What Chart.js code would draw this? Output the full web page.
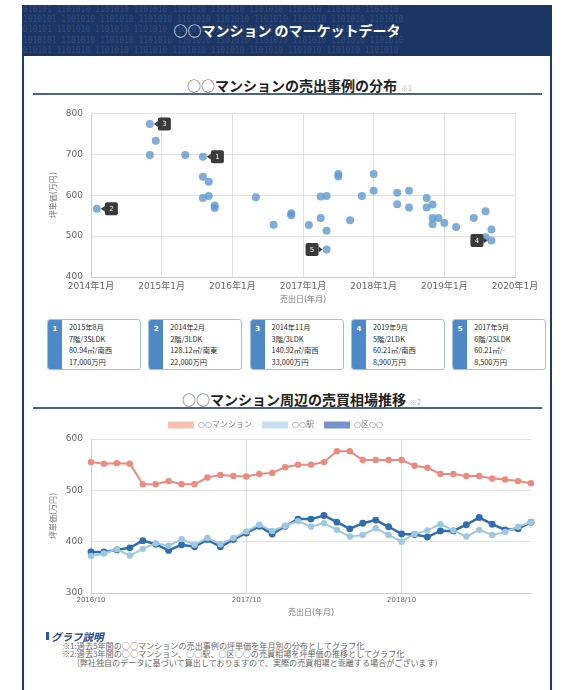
<!DOCTYPE html>
<html lang="ja">
<head>
<meta charset="utf-8">
<script src="https://cdn.jsdelivr.net/npm/chart.js@4.4.1/dist/chart.umd.min.js"></script>
<style>
  body { margin:0; width:564px; height:690px; background:#fff; position:relative; overflow:hidden;
         font-family:"Noto Sans CJK JP", sans-serif; }
  #frame { position:absolute; left:22px; top:5px; width:526px; height:700px;
           border-left:2px solid #1f3a6b; border-right:2px solid #1f3a6b; }
  #header { position:absolute; left:22px; top:5px; width:530px; height:51px; background:#1b3564; overflow:hidden; }
  #binary { position:absolute; left:-4px; top:0; font:8px/10.2px "DejaVu Sans Mono", monospace;
            color:rgba(140,170,220,0.22); white-space:pre; }
  #header .ttl { position:absolute; left:0; right:0; top:0; line-height:51px; text-align:center;
                 color:#fff; font-weight:bold; font-size:14px; }
  .thin { font-weight:normal; }
  .sec { position:absolute; font-size:14px; font-weight:bold; color:#222; line-height:18px; white-space:nowrap; }
  .sec .thin { color:#555; }
  .sec small { font-size:7px; font-weight:normal; color:#aaa; margin-left:4px; }
  .rule { position:absolute; left:33px; width:509px; height:2px; background:#4a6491; }
  .card { position:absolute; top:319px; width:94px; height:51px; box-sizing:border-box;
          border:1px solid #a3bfdf; border-radius:3px; overflow:hidden; background:#fff; }
  .card .strip { position:absolute; left:0; top:0; bottom:0; width:14px; background:#4d89c6;
                 color:#fff; font:bold 7px "DejaVu Sans", sans-serif; text-align:center; padding-top:5px; box-sizing:border-box; }
  .card .txt { position:absolute; left:21px; top:2px; font-size:7.3px; line-height:11.7px; color:#2a2a2a; white-space:nowrap; }
  canvas { position:absolute; }
  #noteHead { position:absolute; left:51px; top:629px; font-size:10.5px; font-weight:bold; color:#23448a; font-style:italic; }
  #noteBar { position:absolute; left:46px; top:632px; width:3px; height:8px; background:#2255aa; }
  #notes { position:absolute; left:62px; top:642px; font-size:8.1px; line-height:8.4px; color:#666; white-space:nowrap; }
</style>
</head>
<body>
<div id="frame"></div>
<div id="header"><div id="binary"></div><div class="ttl"><span class="thin">○○</span>マンション のマーケットデータ</div></div>

<div class="sec" style="left:187px; top:76px;"><span class="thin">○○</span>マンションの売出事例の分布<small>※1</small></div>
<div class="rule" style="top:93px;"></div>
<canvas id="scatterChart" width="530" height="210" style="left:20px; top:100px;"></canvas>
<div id="cards"></div>

<div class="sec" style="left:182px; top:390px;"><span class="thin">○○</span>マンション周辺の売買相場推移<small>※2</small></div>
<div class="rule" style="top:407px;"></div>
<canvas id="lineChart" width="530" height="215" style="left:20px; top:410px;"></canvas>

<div id="noteBar"></div>
<div id="noteHead">グラフ説明</div>
<div id="notes">※1:過去5年間の○○マンションの売出事例の坪単価を年月別の分布としてグラフ化<br>※2:過去3年間の○○マンション、○○駅、○区○○の売買相場を坪単価の推移としてグラフ化<br><span style="padding-left:15px">(弊社独自のデータに基づいて算出しておりますので、実際の売買相場と乖離する場合がございます)</span></div>

<script>
// Scatter data: sale month and unit price (万円/坪)
const saleMonths = ['2014-02','2014-11','2014-12','2014-11','2015-05','2015-08','2015-08','2015-09','2015-08','2015-09',
  '2015-10','2015-10','2016-05','2016-08','2016-11','2016-11','2017-02','2017-04','2017-05','2017-04',
  '2017-05','2017-05','2017-07','2017-07','2017-09','2017-11','2018-01','2018-01','2018-05','2018-05',
  '2018-07','2018-07','2018-10','2018-10','2018-11','2018-11','2018-12','2018-11','2019-01','2019-03',
  '2019-06','2019-08','2019-09','2019-09','2019-08'];
const unitPrices = [567,774,733,698,698,694,645,633,593,598,
  575,569,595,528,556,551,527,597,598,544,
  513,467,652,646,539,598,652,611,606,578,
  611,570,593,570,577,544,544,529,532,522,
  544,561,516,489,497];
// which point each case card (1..5) points to
const calloutPoints = [5, 0, 1, 43, 21];

// case cards
const caseMonths = ['2015年8月','2014年2月','2014年11月','2019年9月','2017年5月'];
const casePlans = ['7階/3SLDK','2階/3LDK','3階/3LDK','5階/2LDK','6階/2SLDK'];
const caseAreas = ['80.94㎡/南西','128.12㎡/南東','140.92㎡/南西','60.21㎡/南西','60.21㎡/-'];
const casePrices = ['17,000万円','22,000万円','33,000万円','8,900万円','8,500万円'];

// Line chart data
const trendLabels = ['2016/10','2016/11','2016/12','2017/01','2017/02','2017/03','2017/04','2017/05','2017/06','2017/07',
  '2017/08','2017/09','2017/10','2017/11','2017/12','2018/01','2018/02','2018/03','2018/04','2018/05',
  '2018/06','2018/07','2018/08','2018/09','2018/10','2018/11','2018/12','2019/01','2019/02','2019/03',
  '2019/04','2019/05','2019/06','2019/07','2019/08'];
const mansionPrices = [555,552,553,552,512,512,518,512,512,525,530,528,527,532,534,545,550,550,555,576,
  576,559,559,559,559,548,544,532,532,528,528,523,521,518,514];
const stationPrices = [372,377,385,373,386,397,392,405,394,407,395,407,420,433,421,431,440,429,436,423,
  410,413,426,413,400,415,422,434,422,410,423,413,419,429,438];
const wardPrices = [380,380,384,388,402,395,383,394,390,404,390,404,417,430,415,430,444,444,451,438,
  425,436,442,429,415,414,409,421,421,433,447,434,423,425,438];

// header pattern
const bits = '1010101 1101010 1101010 1101010 1101010 1101010 1101010 1101010 1101010 1101010';
document.getElementById('binary').textContent = [bits, '1' + bits, bits, '0' + bits, bits].join('\n');

// cards
const cardBox = document.getElementById('cards');
caseMonths.forEach((m, i) => {
  const d = document.createElement('div');
  d.className = 'card';
  d.style.left = (47 + i * 101.3) + 'px';
  d.innerHTML = '<div class="strip">' + (i + 1) + '</div><div class="txt">' +
    [m, casePlans[i], caseAreas[i], casePrices[i]].join('<br>') + '</div>';
  cardBox.appendChild(d);
});

Chart.defaults.font.family = '"DejaVu Sans", "Noto Sans CJK JP", sans-serif';
Chart.defaults.color = '#666';

const toMonth = s => (parseInt(s.slice(0, 4)) - 2014) * 12 + parseInt(s.slice(5)) - 1;

const calloutPlugin = {
  id: 'callouts',
  afterDatasetsDraw(chart) {
    const meta = chart.getDatasetMeta(0);
    const ctx = chart.ctx;
    ctx.save();
    calloutPoints.forEach((idx, i) => {
      const pt = meta.data[idx];
      const toLeft = i >= 3;
      const size = 13, gap = 8;
      const bx = toLeft ? pt.x - gap - size : pt.x + gap;
      const by = pt.y - size / 2;
      ctx.fillStyle = '#3a3a3a';
      ctx.beginPath();
      ctx.roundRect(bx, by, size, size, 2);
      ctx.fill();
      ctx.beginPath();
      if (toLeft) {
        ctx.moveTo(bx + size, pt.y - 3); ctx.lineTo(bx + size + 4, pt.y); ctx.lineTo(bx + size, pt.y + 3);
      } else {
        ctx.moveTo(bx, pt.y - 3); ctx.lineTo(bx - 4, pt.y); ctx.lineTo(bx, pt.y + 3);
      }
      ctx.fill();
      ctx.fillStyle = '#fff';
      ctx.font = '7px "DejaVu Sans"';
      ctx.textAlign = 'center';
      ctx.textBaseline = 'middle';
      ctx.fillText(String(i + 1), bx + size / 2, pt.y + 0.5);
    });
    ctx.restore();
  }
};

new Chart(document.getElementById('scatterChart'), {
  type: 'scatter',
  data: {
    datasets: [{
      data: saleMonths.map((m, i) => ({x: toMonth(m), y: unitPrices[i]})),
      backgroundColor: 'rgba(94,152,208,0.8)',
      borderWidth: 0,
      pointRadius: 4,
      pointHoverRadius: 4
    }]
  },
  options: {
    responsive: false,
    animation: false,
    layout: {padding: {left: 0, right: 35, top: 11, bottom: 0}},
    plugins: {legend: {display: false}, tooltip: {enabled: false}},
    scales: {
      x: {
        type: 'linear', min: 0, max: 72,
        afterFit: s => { s.height = 33; },
        grid: {color: '#e2e2e2', drawTicks: false},
        border: {color: '#cfcfcf'},
        ticks: {stepSize: 12, padding: 4, font: {size: 9}, callback: v => (2014 + v / 12) + '年1月'},
        title: {display: true, text: '売出日(年月)', font: {size: 8}, color: '#777', padding: {top: 0, bottom: 5}}
      },
      y: {
        min: 400, max: 800,
        afterFit: s => { s.width = 71; },
        grid: {color: '#e2e2e2', drawTicks: false},
        border: {color: '#cfcfcf'},
        ticks: {stepSize: 100, padding: 8, font: {size: 9}},
        title: {display: true, text: '坪単価(万円)', font: {size: 8}, color: '#777', padding: {top: 29, bottom: 0}}
      }
    }
  },
  plugins: [calloutPlugin]
});

const legendFill = ['#f6c0b5', '#c5def0', '#7694cc'];

new Chart(document.getElementById('lineChart'), {
  type: 'line',
  data: {
    labels: trendLabels,
    datasets: [
      {label: '○○マンション', data: mansionPrices, borderColor: '#ec8a7e', backgroundColor: '#ec8a7e',
       borderWidth: 2, pointRadius: 2.2},
      {label: '○○駅', data: stationPrices, borderColor: '#9ec8e2', backgroundColor: '#9ec8e2',
       borderWidth: 2, pointRadius: 2.2},
      {label: '○区○○', data: wardPrices, borderColor: '#2f6db1', backgroundColor: '#2f6db1',
       borderWidth: 2.5, pointRadius: 2.2}
    ]
  },
  options: {
    responsive: false,
    animation: false,
    layout: {padding: {left: 0, right: 19, top: 1, bottom: 0}},
    plugins: {
      tooltip: {enabled: false},
      legend: {
        labels: {
          boxWidth: 26, boxHeight: 7, padding: 10, font: {size: 8}, color: '#777',
          generateLabels: chart => Chart.defaults.plugins.legend.labels.generateLabels(chart)
            .map(l => Object.assign(l, {fillStyle: legendFill[l.datasetIndex], lineWidth: 0, strokeStyle: 'transparent'}))
        }
      }
    },
    scales: {
      x: {
        afterFit: s => { s.height = 32; },
        grid: {drawTicks: false, color: c => (trendLabels[c.index] || '').endsWith('/10') ? '#dcdcdc' : 'transparent'},
        border: {color: '#cfcfcf'},
        ticks: {autoSkip: false, maxRotation: 0, padding: 3, font: {size: 7},
                callback: (v, i) => trendLabels[i].endsWith('/10') ? trendLabels[i] : ''},
        title: {display: true, text: '売出日(年月)', font: {size: 8}, color: '#777', padding: {top: 0, bottom: 7}}
      },
      y: {
        min: 300, max: 600,
        afterFit: s => { s.width = 71; },
        grid: {color: '#e2e2e2', drawTicks: false},
        border: {color: '#cfcfcf'},
        ticks: {stepSize: 100, padding: 8, font: {size: 9}},
        title: {display: true, text: '坪単価(万円)', font: {size: 8}, color: '#777', padding: {top: 29, bottom: 0}}
      }
    }
  }
});
</script>
</body>
</html>
